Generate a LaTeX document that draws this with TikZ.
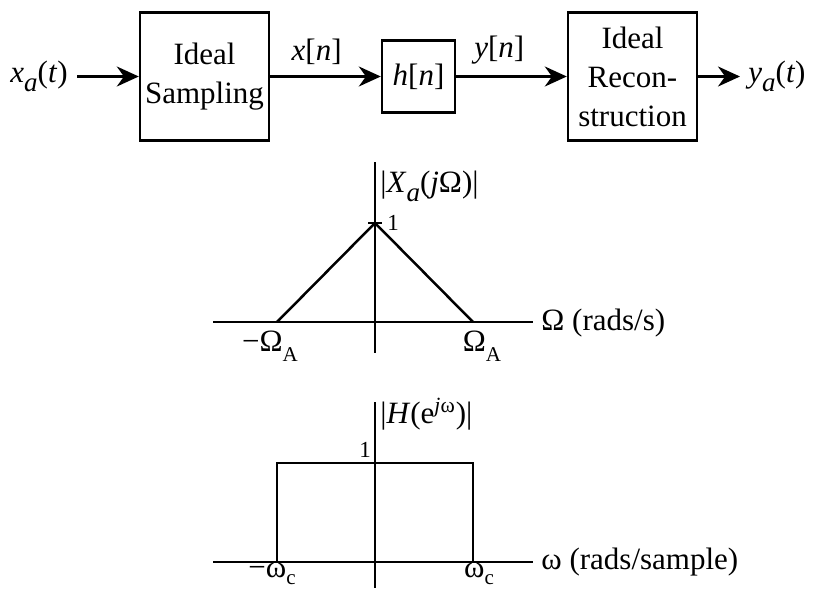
\documentclass[tikz,border=0pt]{standalone}
\usepackage{fontspec}
\setmainfont{Liberation Serif}
\usetikzlibrary{arrows.meta,positioning}

\newcommand{\vr}[1]{\textit{#1}}
\newcommand{\sbs}[1]{\raisebox{-4.5pt}{\fontsize{13.5}{13.5}\selectfont #1}}
\newcommand{\sbu}[1]{\raisebox{-5pt}{\fontsize{10.5}{10.5}\selectfont #1}}
\newcommand{\sbl}[1]{\raisebox{-3.5pt}{\fontsize{10.5}{10.5}\selectfont #1}}

\tikzset{
  blk/.style={draw, line width=1.2pt, align=center, inner sep=2pt},
  sig/.style={-{Stealth[length=11pt,width=10pt]}, line width=1.2pt},
  axis/.style={line width=1.25pt},
  small/.style={font=\fontsize{11.5}{11.5}\selectfont, inner sep=0pt}
}

\begin{document}
\begin{tikzpicture}[x=0.5pt, y=-0.5pt, font=\fontsize{15.5}{19.5}\selectfont]
            \useasboundingbox (0,0) rectangle (830,589);

            % --- Block diagram ---
            \node[blk, minimum width=64.5pt, minimum height=64pt] (samp) at (204.5,76.5) {Ideal\\Sampling};
            \node[blk, minimum width=36.5pt, minimum height=36pt] (filt) at (418.5,76.5) {\vr{h}[\vr{n}]};
            \node[blk, minimum width=64.5pt, minimum height=64pt] (recon) at (632.5,76.5) {Ideal\\Recon-\\struction};
            \node[anchor=east, inner sep=4.5pt] (xin) at (77,76.5) {\vr{x}\sbs{\vr{a}}(\vr{t})};
            \node[anchor=west, inner sep=4pt] (yout) at (740,76.5) {\vr{y}\sbs{\vr{a}}(\vr{t})};

            \draw[sig] (xin) -- (samp);
            \draw[sig] (samp) -- node[above=2pt, pos=0.42] (xn) {\vr{x}[\vr{n}]} (filt);
            \draw[sig] (filt) -- node[above=2pt, pos=0.39] (yn) {\vr{y}[\vr{n}]} (recon);
            \draw[sig] (recon) -- (yout);

            % --- Spectrum of the input ---
            \draw[axis] (213,322) -- (533,322);
            \draw[axis] (375,162) -- (375,353);
            \draw[axis] (277,322) -- (375,223) -- (473,322);
            \draw[axis] (368,223) -- (382,223);
            \node[anchor=base west, inner sep=0pt] (xlab) at (380,192) {|\vr{X}\sbs{\vr{a}}(\vr{j}Ω)|};
            \node[anchor=base west, small] (one1) at (387,230) {1};
            \node[anchor=base west, inner sep=0pt] (Wax) at (541,330) {Ω (rads/s)};
            \node[anchor=base, inner sep=0pt] (mWA) at (270,351) {−Ω\sbu{A}};
            \node[anchor=base, inner sep=0pt] (WA) at (482,351) {Ω\sbu{A}};

            % --- Filter response ---
            \draw[axis] (213,562) -- (533,562);
            \draw[axis] (375,402) -- (375,588);
            \draw[axis] (277,562) -- (277,463) -- (473,463) -- (473,562);
            \node[anchor=base west, inner sep=0pt] (hlab) at (380,423) {|\vr{H}(e\textsuperscript{\vr{j}ω})|};
            \node[anchor=base, small] (one2) at (365,457) {1};
            \node[anchor=base west, inner sep=0pt] (wax) at (541,569) {ω (rads/sample)};
            \node[anchor=base, inner sep=0pt] (mwc) at (272,577) {−ω\sbl{c}};
            \node[anchor=base, inner sep=0pt] (wc) at (479,577) {ω\sbl{c}};
        \end{tikzpicture}
\end{document}
